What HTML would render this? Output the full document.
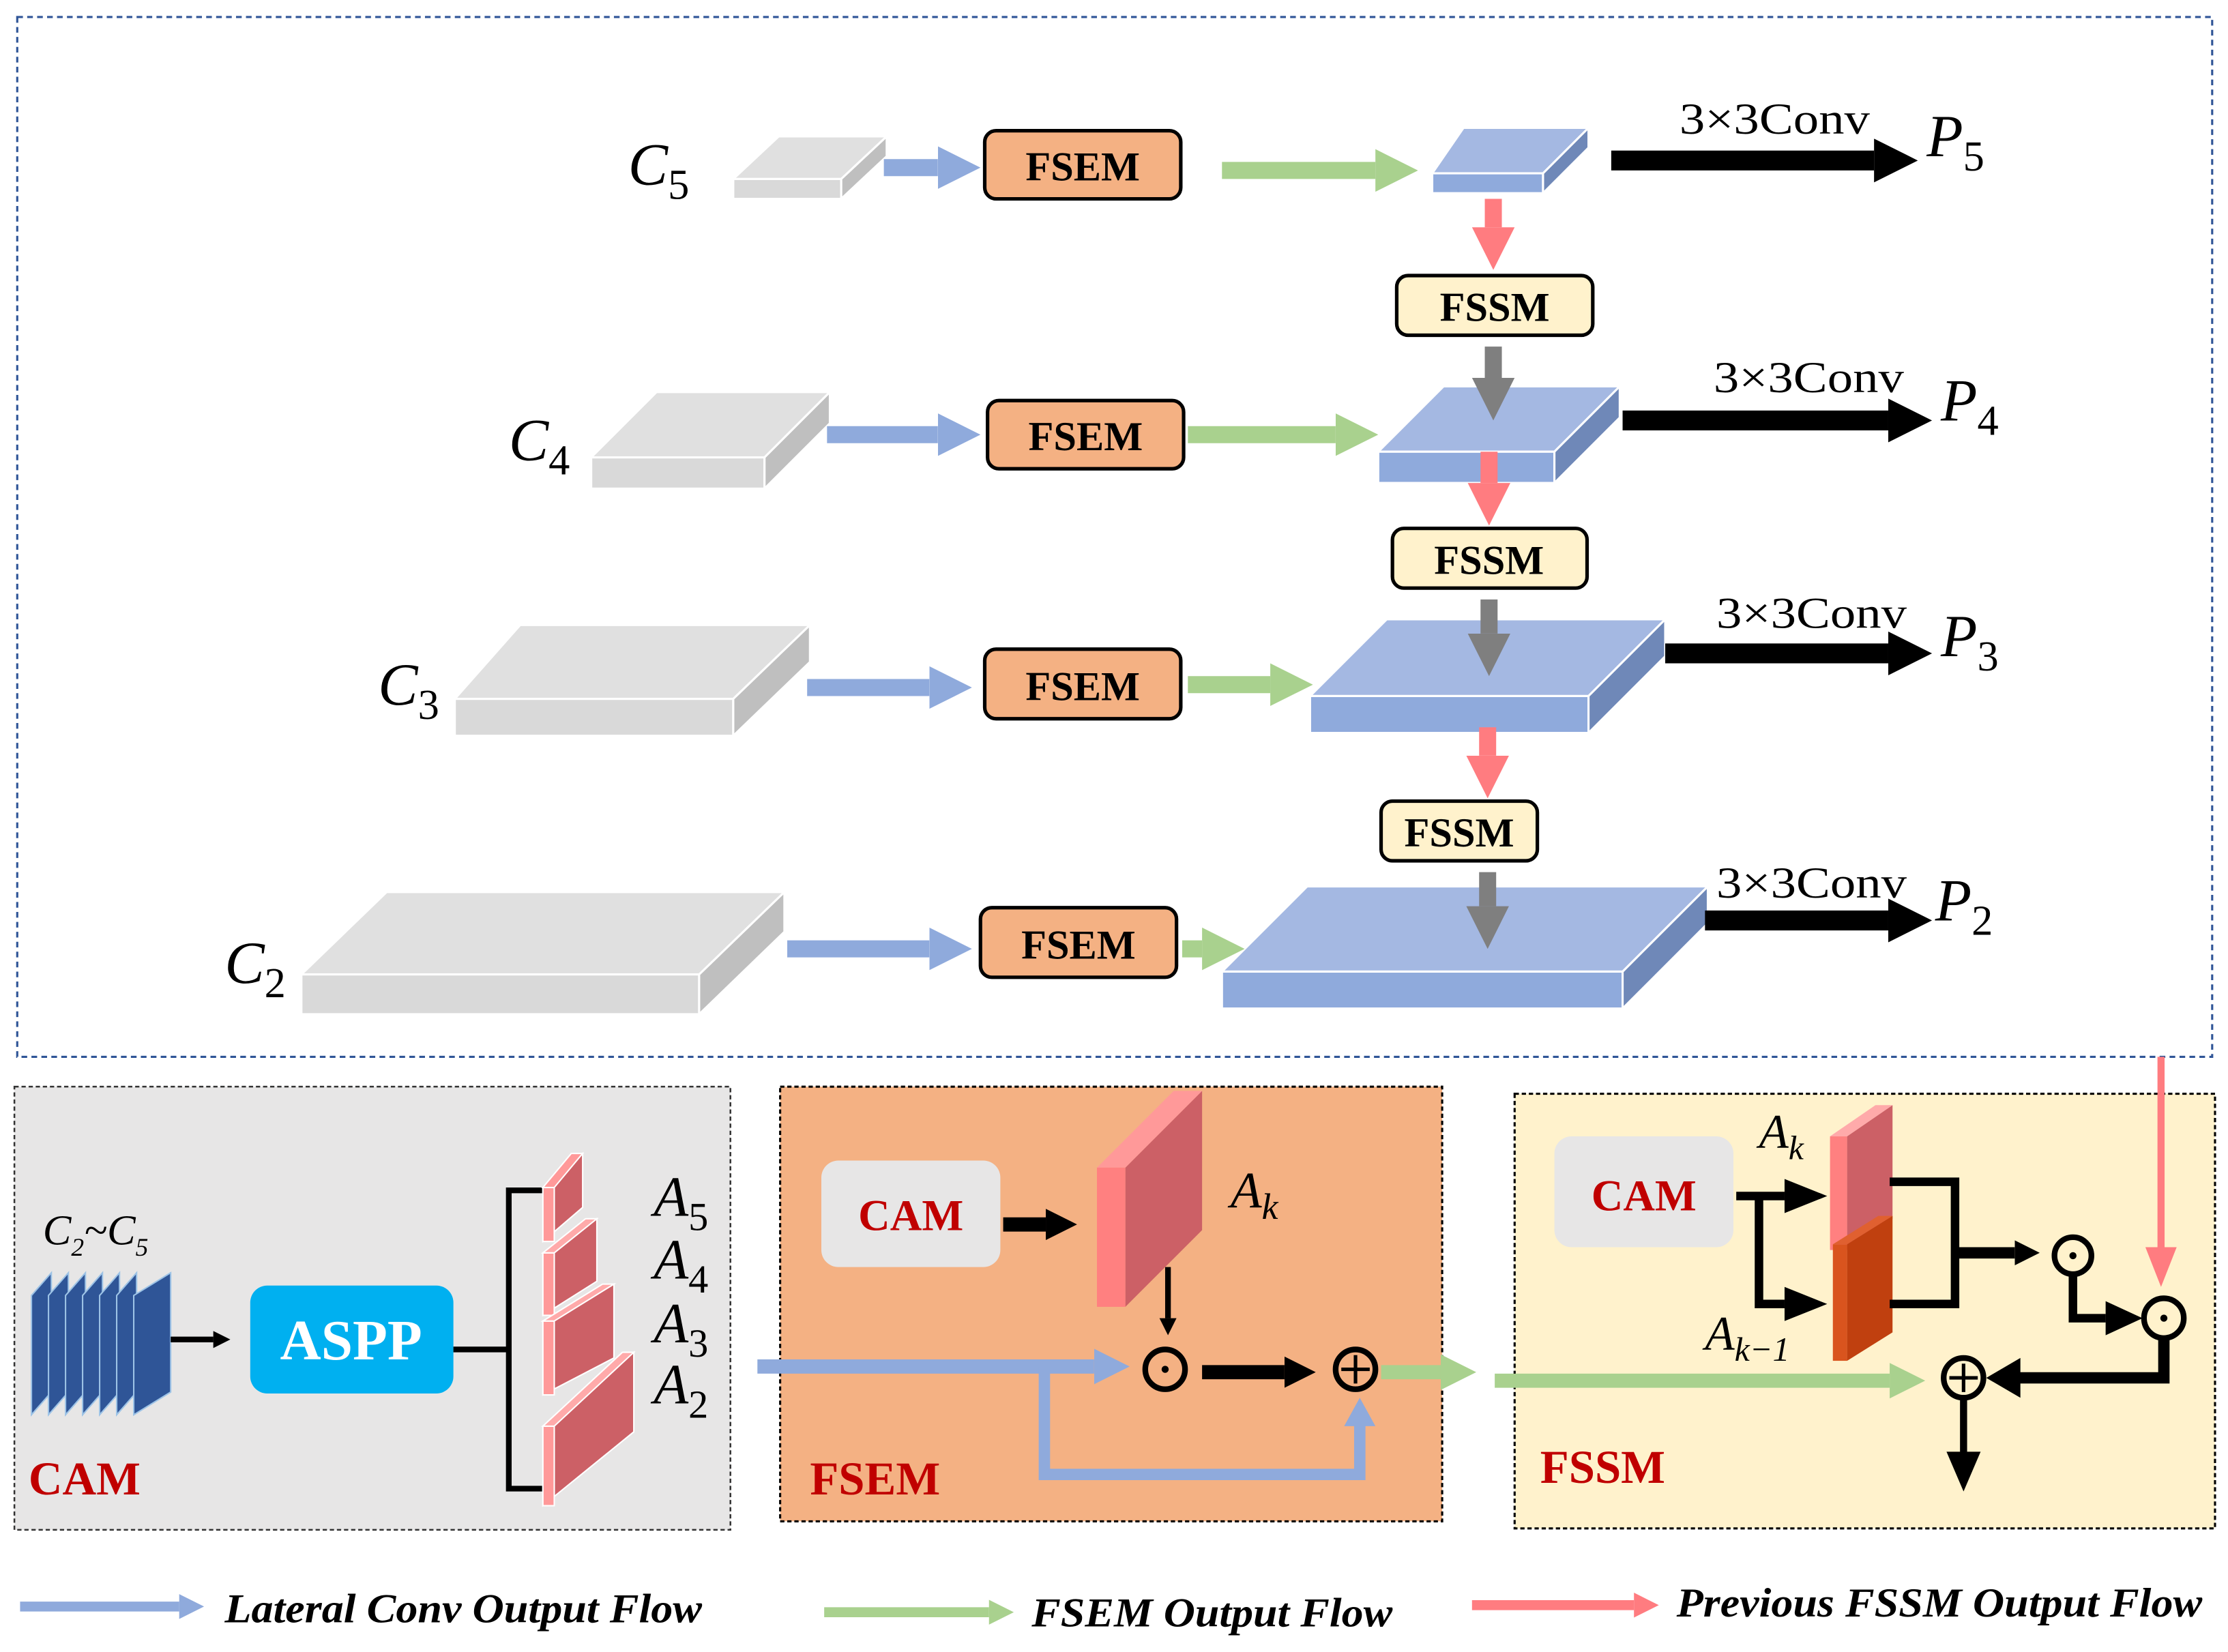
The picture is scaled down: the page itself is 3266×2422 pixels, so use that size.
<!DOCTYPE html>
<html><head><meta charset="utf-8"><style>html,body{margin:0;padding:0;background:#fff}svg{display:block}
text{font-family:"Liberation Serif",serif}</style></head><body>
<svg width="3266" height="2422" viewBox="0 0 1568 1163" xmlns="http://www.w3.org/2000/svg">
<defs>
<marker id="mb" viewBox="0 0 10 10" refX="0" refY="5" markerWidth="2.5" markerHeight="2.5" orient="auto"><path d="M0,0L10,5L0,10z" fill="#8faadc"/></marker>
<marker id="mg" viewBox="0 0 10 10" refX="0" refY="5" markerWidth="2.5" markerHeight="2.5" orient="auto"><path d="M0,0L10,5L0,10z" fill="#a9d18e"/></marker>
<marker id="mr" viewBox="0 0 10 10" refX="0" refY="5" markerWidth="2.5" markerHeight="2.5" orient="auto"><path d="M0,0L10,5L0,10z" fill="#ff7c80"/></marker>
<marker id="mgr" viewBox="0 0 10 10" refX="0" refY="5" markerWidth="2.5" markerHeight="2.5" orient="auto"><path d="M0,0L10,5L0,10z" fill="#7f7f7f"/></marker>
<marker id="mk" viewBox="0 0 10 10" refX="0" refY="5" markerWidth="2.2" markerHeight="2.2" orient="auto"><path d="M0,0L10,5L0,10z" fill="#000"/></marker>
<marker id="mk2" viewBox="0 0 10 10" refX="0" refY="5" markerWidth="3" markerHeight="3" orient="auto"><path d="M0,0L10,5L0,10z" fill="#000"/></marker>
</defs>

<rect x="12" y="12" width="1545" height="732" fill="none" stroke="#2f5597" stroke-width="1.5" stroke-dasharray="4,3"/>

<g fill="#e0e0e0" stroke="#fff" stroke-width="1.5">
<polygon points="516,126 592,126 624,96 548,96"/><rect x="516" y="126" width="76" height="14" fill="#d9d9d9"/><polygon points="592,126 624,96 624,110 592,140" fill="#bfbfbf"/>
<polygon points="416,322 538,322 584,276 462,276"/><rect x="416" y="322" width="122" height="22" fill="#d9d9d9"/><polygon points="538,322 584,276 584,298 538,344" fill="#bfbfbf"/>
<polygon points="320,492 516,492 570,440 366,440"/><rect x="320" y="492" width="196" height="26" fill="#d9d9d9"/><polygon points="516,492 570,440 570,466 516,518" fill="#bfbfbf"/>
<polygon points="212,686 492,686 552,628 272,628"/><rect x="212" y="686" width="280" height="28" fill="#d9d9d9"/><polygon points="492,686 552,628 552,656 492,714" fill="#bfbfbf"/>
</g>
<g fill="#a4b8e2" stroke="#fff" stroke-width="1.5">
<polygon points="1008,122 1086,122 1118,90 1030,90"/><rect x="1008" y="122" width="78" height="14" fill="#8faadc"/><polygon points="1086,122 1118,90 1118,104 1086,136" fill="#6f88b8"/>
<polygon points="970,318 1094,318 1140,272 1016,272"/><rect x="970" y="318" width="124" height="22" fill="#8faadc"/><polygon points="1094,318 1140,272 1140,294 1094,340" fill="#6f88b8"/>
<polygon points="922,490 1118,490 1172,436 976,436"/><rect x="922" y="490" width="196" height="26" fill="#8faadc"/><polygon points="1118,490 1172,436 1172,462 1118,516" fill="#6f88b8"/>
<polygon points="860,684 1142,684 1202,624 920,624"/><rect x="860" y="684" width="282" height="26" fill="#8faadc"/><polygon points="1142,684 1202,624 1202,650 1142,710" fill="#6f88b8"/>
</g>

<g stroke-width="12" fill="none">
<line x1="622" y1="118" x2="660" y2="118" stroke="#8faadc" marker-end="url(#mb)"/>
<line x1="582" y1="306" x2="660" y2="306" stroke="#8faadc" marker-end="url(#mb)"/>
<line x1="568" y1="484" x2="654" y2="484" stroke="#8faadc" marker-end="url(#mb)"/>
<line x1="554" y1="668" x2="654" y2="668" stroke="#8faadc" marker-end="url(#mb)"/>
<line x1="860" y1="120" x2="968" y2="120" stroke="#a9d18e" marker-end="url(#mg)"/>
<line x1="836" y1="306" x2="940" y2="306" stroke="#a9d18e" marker-end="url(#mg)"/>
<line x1="836" y1="482" x2="894" y2="482" stroke="#a9d18e" marker-end="url(#mg)"/>
<line x1="832" y1="668" x2="846" y2="668" stroke="#a9d18e" marker-end="url(#mg)"/>
<line x1="1051" y1="140" x2="1051" y2="160" stroke="#ff7c80" marker-end="url(#mr)"/>
<line x1="1048" y1="318" x2="1048" y2="340" stroke="#ff7c80" marker-end="url(#mr)"/>
<line x1="1047" y1="512" x2="1047" y2="532" stroke="#ff7c80" marker-end="url(#mr)"/>
<line x1="1051" y1="244" x2="1051" y2="266" stroke="#7f7f7f" marker-end="url(#mgr)"/>
<line x1="1048" y1="422" x2="1048" y2="446" stroke="#7f7f7f" marker-end="url(#mgr)"/>
<line x1="1047" y1="614" x2="1047" y2="638" stroke="#7f7f7f" marker-end="url(#mgr)"/>
</g>
<g stroke="#000" stroke-width="14">
<line x1="1134" y1="113" x2="1319" y2="113" marker-end="url(#mk)"/>
<line x1="1142" y1="296" x2="1329" y2="296" marker-end="url(#mk)"/>
<line x1="1172" y1="460" x2="1329" y2="460" marker-end="url(#mk)"/>
<line x1="1200" y1="648" x2="1329" y2="648" marker-end="url(#mk)"/>
</g>
<g font-size="31" fill="#000">
<text x="1182" y="94" textLength="134" lengthAdjust="spacingAndGlyphs">3×3Conv</text>
<text x="1206" y="276" textLength="134" lengthAdjust="spacingAndGlyphs">3×3Conv</text>
<text x="1208" y="442" textLength="134" lengthAdjust="spacingAndGlyphs">3×3Conv</text>
<text x="1208" y="632" textLength="134" lengthAdjust="spacingAndGlyphs">3×3Conv</text>
</g>
<g font-size="42" font-style="italic">
<text x="1356" y="110">P<tspan font-size="30" font-style="normal" dy="10">5</tspan></text>
<text x="1366" y="296">P<tspan font-size="30" font-style="normal" dy="10">4</tspan></text>
<text x="1366" y="462">P<tspan font-size="30" font-style="normal" dy="10">3</tspan></text>
<text x="1362" y="648">P<tspan font-size="30" font-style="normal" dy="10">2</tspan></text>
<text x="442" y="130">C<tspan font-size="30" font-style="normal" dy="10">5</tspan></text>
<text x="358" y="324">C<tspan font-size="30" font-style="normal" dy="10">4</tspan></text>
<text x="266" y="496">C<tspan font-size="30" font-style="normal" dy="10">3</tspan></text>
<text x="158" y="692">C<tspan font-size="30" font-style="normal" dy="10">2</tspan></text>
</g>

<g fill="#f4b183" stroke="#000" stroke-width="2.5">
<rect x="693" y="92" width="138" height="48" rx="8"/><rect x="695" y="282" width="138" height="48" rx="8"/>
<rect x="693" y="457" width="138" height="49" rx="8"/><rect x="690" y="639" width="138" height="49" rx="8"/>
</g>
<g fill="#fff2cc" stroke="#000" stroke-width="2.5">
<rect x="983" y="194" width="138" height="42" rx="8"/><rect x="980" y="372" width="137" height="42" rx="8"/><rect x="972" y="564" width="110" height="42" rx="8"/>
</g>
<g font-size="29" font-weight="bold" text-anchor="middle">
<text x="762" y="127">FSEM</text><text x="764" y="317">FSEM</text><text x="762" y="493">FSEM</text><text x="759" y="675">FSEM</text>
<text x="1052" y="226">FSSM</text><text x="1048" y="404">FSSM</text><text x="1027" y="596">FSSM</text>
</g>

<rect x="10" y="765" width="504" height="312" fill="#e7e6e6" stroke="#333" stroke-width="1.2" stroke-dasharray="3,2"/>
<rect x="549" y="765" width="466" height="306" fill="#f4b183" stroke="#000" stroke-width="1.5" stroke-dasharray="3,2"/>
<rect x="1066" y="770" width="493" height="306" fill="#fff2cc" stroke="#000" stroke-width="1.5" stroke-dasharray="3,2"/>
<line x1="1521" y1="744" x2="1521" y2="878" stroke="#ff7c80" stroke-width="5"/>
<polygon points="1510,878 1532,878 1521,906" fill="#ff7c80"/>

<g stroke="#9dc3e6" stroke-width="1">
<polygon points="22,996 22,912 36,896 36,980" fill="#2f5597"/>
<polygon points="34,996 34,912 48,896 48,980" fill="#2f5597"/>
<polygon points="46,996 46,912 60,896 60,980" fill="#2f5597"/>
<polygon points="58,996 58,912 72,896 72,980" fill="#2f5597"/>
<polygon points="70,996 70,912 84,896 84,980" fill="#2f5597"/>
<polygon points="82,996 82,912 96,896 96,980" fill="#2f5597"/>
<polygon points="94,996 94,912 120,896 120,980" fill="#2f5597"/>
</g>
<text x="30" y="876" font-size="30" font-style="italic">C<tspan font-size="18" dy="8">2</tspan><tspan dy="-8">~C</tspan><tspan font-size="18" dy="8">5</tspan></text>
<line x1="120" y1="943" x2="150" y2="943" stroke="#000" stroke-width="4" marker-end="url(#mk2)"/>
<rect x="176" y="905" width="143" height="76" rx="12" fill="#00b0f0"/>
<text x="247" y="957" font-size="40" font-weight="bold" fill="#fff" text-anchor="middle">ASPP</text>
<path d="M319,950H358M382,838H358V1048H382" stroke="#000" stroke-width="4" fill="none"/>
<g stroke="#fff" stroke-width="1">
<polygon points="382,874 382,836 410,812 410,850" fill="#cc6066"/><polygon points="382,836 390,836 410,812 402,812" fill="#ff9999"/><rect x="382" y="836" width="8" height="38" fill="#ff9999"/>
<polygon points="382,926 382,882 420,858 420,902" fill="#cc6066"/><rect x="382" y="882" width="8" height="44" fill="#ff9999"/><polygon points="382,882 390,882 420,858 412,858" fill="#ffaaaa"/>
<polygon points="382,982 382,930 432,904 432,956" fill="#cc6066"/><rect x="382" y="930" width="8" height="52" fill="#ff9999"/><polygon points="382,930 390,930 432,904 424,904" fill="#ffaaaa"/>
<polygon points="382,1060 382,1004 446,952 446,1008" fill="#cc6066"/><rect x="382" y="1004" width="8" height="56" fill="#ff9999"/><polygon points="382,1004 390,1004 446,952 438,952" fill="#ffaaaa"/>
</g>
<g font-size="40" font-style="italic">
<text x="460" y="856">A<tspan font-size="28" font-style="normal" dy="10">5</tspan></text>
<text x="460" y="900">A<tspan font-size="28" font-style="normal" dy="10">4</tspan></text>
<text x="460" y="945">A<tspan font-size="28" font-style="normal" dy="10">3</tspan></text>
<text x="460" y="988">A<tspan font-size="28" font-style="normal" dy="10">2</tspan></text>
</g>
<text x="20" y="1052" font-size="33" font-weight="bold" fill="#c00000">CAM</text>

<rect x="578" y="817" width="126" height="75" rx="12" fill="#e7e6e6"/>
<text x="641" y="866" font-size="31" font-weight="bold" fill="#c00000" text-anchor="middle">CAM</text>
<line x1="706" y1="862" x2="736" y2="862" stroke="#000" stroke-width="10" marker-end="url(#mk)"/>
<polygon points="792,920 792,822 846,768 846,866" fill="#cc6066"/>
<polygon points="772,822 792,822 846,768 826,768" fill="#ff9999"/>
<rect x="772" y="822" width="20" height="98" fill="#ff8080"/>
<text x="866" y="850" font-size="36" font-style="italic">A<tspan font-size="26" dy="8">k</tspan></text>
<line x1="822" y1="892" x2="822" y2="928" stroke="#000" stroke-width="4" marker-end="url(#mk2)"/>
<line x1="533" y1="962" x2="770" y2="962" stroke="#8faadc" stroke-width="10" marker-end="url(#mb)"/>
<path d="M735,962V1038H957V1000" stroke="#8faadc" stroke-width="8" fill="none"/>
<polygon points="946,1004 968,1004 957,984" fill="#8faadc"/>
<circle cx="820" cy="964" r="14" fill="none" stroke="#000" stroke-width="4"/><circle cx="820" cy="964" r="2.5"/>
<line x1="846" y1="966" x2="904" y2="966" stroke="#000" stroke-width="10" marker-end="url(#mk)"/>
<circle cx="954" cy="964" r="14" fill="none" stroke="#000" stroke-width="4"/>
<path d="M954,954V974M944,964H964" stroke="#000" stroke-width="2.5"/>
<line x1="972" y1="966" x2="1014" y2="966" stroke="#a9d18e" stroke-width="10" marker-end="url(#mg)"/>
<text x="570" y="1052" font-size="33" font-weight="bold" fill="#c00000">FSEM</text>

<rect x="1094" y="800" width="126" height="78" rx="12" fill="#e7e6e6"/>
<text x="1157" y="852" font-size="31" font-weight="bold" fill="#c00000" text-anchor="middle">CAM</text>
<text x="1238" y="808" font-size="34" font-style="italic">A<tspan font-size="24" dy="8">k</tspan></text>
<text x="1200" y="950" font-size="34" font-style="italic">A<tspan font-size="24" dy="8">k−1</tspan></text>
<polygon points="1300,880 1300,800 1332,778 1332,858" fill="#cc6066"/><rect x="1288" y="800" width="12" height="80" fill="#ff8080"/><polygon points="1288,800 1300,800 1332,778 1320,778" fill="#ffaaaa"/>
<polygon points="1300,958 1300,876 1332,856 1332,938" fill="#c0400f"/><rect x="1290" y="876" width="10" height="82" fill="#d9541e"/><polygon points="1290,876 1300,876 1332,856 1322,856" fill="#e06030"/>
<path d="M1222,842H1256M1238,842V918H1256" stroke="#000" stroke-width="6" fill="none"/>
<polygon points="1256,830 1256,854 1286,842"/><polygon points="1256,906 1256,930 1286,918"/>
<path d="M1330,832H1376V918H1330" stroke="#000" stroke-width="6" fill="none"/>
<line x1="1376" y1="882" x2="1418" y2="882" stroke="#000" stroke-width="8" marker-end="url(#mk)"/>
<circle cx="1459" cy="884" r="13" fill="#fff2cc" stroke="#000" stroke-width="4"/><circle cx="1459" cy="884" r="2.5"/>
<path d="M1459,897V928H1482" stroke="#000" stroke-width="6" fill="none"/>
<polygon points="1482,916 1482,940 1508,928"/>
<circle cx="1523" cy="928" r="14" fill="#fff2cc" stroke="#000" stroke-width="4"/><circle cx="1523" cy="928" r="2.5"/>
<path d="M1523,942V970H1420" stroke="#000" stroke-width="8" fill="none"/>
<polygon points="1422,956 1422,984 1398,970"/>
<line x1="1052" y1="972" x2="1330" y2="972" stroke="#a9d18e" stroke-width="10" marker-end="url(#mg)"/>
<circle cx="1382" cy="970" r="14" fill="#fff2cc" stroke="#000" stroke-width="4"/>
<path d="M1382,960V980M1372,970H1392" stroke="#000" stroke-width="2.5"/>
<line x1="1382" y1="984" x2="1382" y2="1024" stroke="#000" stroke-width="5"/>
<polygon points="1370,1022 1394,1022 1382,1050"/>
<text x="1084" y="1044" font-size="33" font-weight="bold" fill="#c00000">FSSM</text>

<line x1="14" y1="1131" x2="126" y2="1131" stroke="#8faadc" stroke-width="7" marker-end="url(#mb)"/>
<line x1="580" y1="1135" x2="696" y2="1135" stroke="#a9d18e" stroke-width="7" marker-end="url(#mg)"/>
<line x1="1036" y1="1130" x2="1150" y2="1130" stroke="#ff7c80" stroke-width="7" marker-end="url(#mr)"/>
<g font-size="29" font-style="italic" font-weight="bold">
<text x="158" y="1142" textLength="336" lengthAdjust="spacingAndGlyphs">Lateral Conv Output Flow</text>
<text x="726" y="1145" textLength="254" lengthAdjust="spacingAndGlyphs">FSEM Output Flow</text>
<text x="1180" y="1138" textLength="370" lengthAdjust="spacingAndGlyphs">Previous FSSM Output Flow</text>
</g>
</svg>
</body></html>
